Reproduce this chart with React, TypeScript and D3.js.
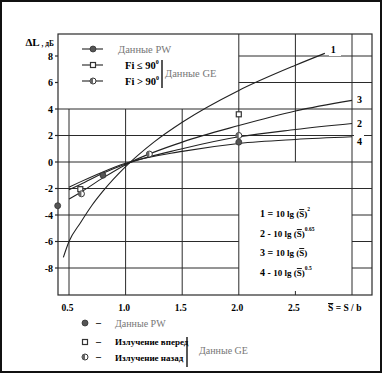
import React from "react";
import * as d3 from "d3";

// ---- data ----
const sValues = [0.5, 0.6, 0.8, 1.0, 1.5, 2.0, 2.5, 3.0];
const curve1S = [0.45, 0.5, 0.6, 0.7, 0.8, 1.0, 1.25, 1.5, 2.0, 2.5, 2.76];
const curve1dB = [-7.2, -6.0, -4.6, -3.3, -2.2, -0.35, 1.5, 3.0, 5.4, 7.3, 8.2];
const curve2dB = [-2.1, -1.7, -0.85, -0.15, 1.0, 1.9, 2.45, 2.9];
const curve3dB = [-2.8, -2.3, -1.2, -0.2, 1.5, 2.75, 3.85, 4.65];
const curve4dB = [-1.9, -1.5, -0.75, -0.1, 0.8, 1.4, 1.7, 1.9];
const curveLabels = ["1", "2", "3", "4"];

const pwPoints: [number, number][] = [[0.4, -3.3], [0.8, -1.0], [2.0, 1.5]];
const geForward: [number, number][] = [[0.6, -2.05], [2.0, 3.6]];
const geBackward: [number, number][] = [[0.61, -2.4], [1.21, 0.6], [2.0, 2.0]];

const xTicks = [0.5, 1.0, 1.5, 2.0, 2.5];
const yTicks = [8, 6, 4, 2, 0, -2, -4, -6, -8];

const W = 383, H = 374;
const x = d3.scaleLinear().domain([0.5, 3.0]).range([69, 352]);
const y = d3.scaleLinear().domain([-8, 8]).range([268, 56]);
const L = 58, R = 372, T = 34, B = 295;

const gridC = "#2a2a2a";
const font = "'Liberation Serif', 'DejaVu Serif', serif";

function Circle({ cx, cy }: { cx: number; cy: number }) {
  return <circle cx={cx} cy={cy} r={3} fill="#555" stroke="#333" strokeWidth={0.8} />;
}
function Square({ cx, cy }: { cx: number; cy: number }) {
  return <rect x={cx - 2.5} y={cy - 2.5} width={5} height={5} fill="#fff" stroke="#333" strokeWidth={1.2} />;
}
function Half({ cx, cy }: { cx: number; cy: number }) {
  return (
    <g>
      <circle cx={cx} cy={cy} r={3} fill="#fff" stroke="#333" strokeWidth={1} />
      <path d={`M${cx},${cy - 3} A3,3 0 0 0 ${cx},${cy + 3} Z`} fill="#666" />
    </g>
  );
}

export default function App() {
  const line = d3.line<[number, number]>().x(d => x(d[0])).y(d => y(d[1])).curve(d3.curveMonotoneX);
  const c1 = curve1S.map((s, i) => [s, curve1dB[i]] as [number, number]);
  const mk = (arr: number[]) => sValues.map((s, i) => [s, arr[i]] as [number, number]);
  const curves = [mk(curve2dB), mk(curve3dB), mk(curve4dB)];

  const hLines: JSX.Element[] = [];
  yTicks.forEach(v => {
    const yy = y(v);
    if (v >= 6) {
      hLines.push(<line key={"h" + v} x1={x(2.0)} x2={R} y1={yy} y2={yy} stroke={gridC} />);
    } else if (v <= -4) {
      hLines.push(<line key={"h" + v} x1={L} x2={x(2.0)} y1={yy} y2={yy} stroke={gridC} />);
      hLines.push(<line key={"hr" + v} x1={x(3.0)} x2={R} y1={yy} y2={yy} stroke={gridC} />);
    } else {
      hLines.push(<line key={"h" + v} x1={L} x2={R} y1={yy} y2={yy} stroke={gridC} />);
    }
  });
  const vLines: JSX.Element[] = [];
  [0.5, 1.0, 1.5].forEach(v =>
    vLines.push(<line key={"v" + v} x1={x(v)} x2={x(v)} y1={y(4)} y2={B} stroke={gridC} />)
  );
  vLines.push(<line key="v2" x1={x(2.0)} x2={x(2.0)} y1={T} y2={B} stroke={gridC} />);
  vLines.push(<line key="v25" x1={x(2.5)} x2={x(2.5)} y1={T} y2={y(0)} stroke={gridC} />);
  vLines.push(<line key="v25t" x1={x(2.5)} x2={x(2.5)} y1={B - 4} y2={B} stroke={gridC} />);
  vLines.push(<line key="v3" x1={x(3.0)} x2={x(3.0)} y1={T} y2={B} stroke={gridC} />);

  const endLabel = (pts: [number, number][], label: string, dx: number, dy: number) => {
    const p = pts[pts.length - 1];
    return (
      <text key={"l" + label} x={x(p[0]) + dx} y={y(p[1]) + dy} fontSize={10} fontWeight="bold" fontFamily={font}>{label}</text>
    );
  };

  const formulas = [
    { n: "1", sep: "=", sup: "2" },
    { n: "2", sep: "-", sup: "0.65" },
    { n: "3", sep: "=", sup: "" },
    { n: "4", sep: "-", sup: "0.5" },
  ];
  const formulaY = [217, 237, 256, 276];

  return (
    <div style={{ position: "fixed", left: 0, top: 0 }}>
      <svg width={W} height={H} style={{ display: "block", background: "#fff" }} fontFamily={font}>
        <rect x={1} y={1} width={380} height={371} fill="#fff" stroke="#111" strokeWidth={2} />
        <rect x={L} y={T} width={R - L} height={B - T} fill="none" stroke={gridC} strokeWidth={1.2} />
        {hLines}
        {vLines}
        {yTicks.map(v => (
          <g key={"yt" + v}>
            <line x1={L - 3} x2={L} y1={y(v)} y2={y(v)} stroke={gridC} strokeWidth={1.2} />
            <text x={53} y={y(v) + 3.5} textAnchor="end" fontSize={10} fontWeight="bold">{v}</text>
          </g>
        ))}
        {xTicks.map(v => (
          <text key={"xt" + v} x={x(v) - 1.5} y={311} textAnchor="middle" fontSize={9.5} fontWeight="bold">{v.toFixed(1)}</text>
        ))}
        <text x={328} y={311} fontSize={9.5} fontWeight="bold">
          <tspan style={{ textDecoration: "overline" }}>S</tspan> = S / b
        </text>
        <text x={54} y={46} fontWeight="bold" textAnchor="end">
          <tspan fontSize={11}>ΔL</tspan><tspan fontSize={7.5}> , дБ</tspan>
        </text>

        <path d={line(c1) || ""} fill="none" stroke="#222" strokeWidth={1.1} />
        {curves.map((c, i) => (
          <path key={"c" + i} d={line(c) || ""} fill="none" stroke="#222" strokeWidth={1.1} />
        ))}
        <rect x={329} y={43} width={12} height={13} fill="#fff" />
        {endLabel(c1, curveLabels[0], 6, 0)}
        <rect x={354} y={135} width={10} height={12} fill="#fff" />
        {endLabel(curves[0], curveLabels[1], 5, 3)}
        {endLabel(curves[1], curveLabels[2], 5, 3)}
        {endLabel(curves[2], curveLabels[3], 5, 8)}

        {pwPoints.map((p, i) => <Circle key={"pw" + i} cx={x(p[0])} cy={y(p[1])} />)}
        {geForward.map((p, i) => <Square key={"gf" + i} cx={x(p[0])} cy={y(p[1])} />)}
        {geBackward.map((p, i) => <Half key={"gb" + i} cx={x(p[0])} cy={y(p[1])} />)}

        <g>
          <line x1={82} x2={103} y1={49} y2={49} stroke="#333" strokeWidth={1.2} />
          <Circle cx={93} cy={49} />
          <text x={118} y={53} fontSize={10.5} fill="#777">Данные PW</text>
          <line x1={82} x2={103} y1={65} y2={65} stroke="#333" strokeWidth={1.2} />
          <Square cx={93} cy={65} />
          <text x={125} y={69} fontSize={10.5} fontWeight="bold">Fi ≤ 90<tspan fontSize={6} dy={-5}>0</tspan></text>
          <line x1={82} x2={103} y1={81} y2={81} stroke="#333" strokeWidth={1.2} />
          <Half cx={93} cy={81} />
          <text x={125} y={85} fontSize={10.5} fontWeight="bold">Fi &gt; 90<tspan fontSize={6} dy={-5}>0</tspan></text>
          <line x1={162} x2={162} y1={60} y2={88} stroke="#111" strokeWidth={1.4} />
          <text x={165} y={77} fontSize={10.5} fill="#777">Данные GE</text>
        </g>

        {formulas.map((f, i) => (
          <text key={"f" + i} x={260} y={formulaY[i]} fontSize={10} fontWeight="bold">
            {f.n} {f.sep} <tspan fontSize={9}>10 lg (</tspan><tspan fontSize={9} style={{ textDecoration: "overline" }}>S</tspan><tspan fontSize={9}>)</tspan>
            {f.sup ? <tspan fontSize={5.5} dy={-6}>{f.sup}</tspan> : null}
          </text>
        ))}

        <g>
          <Circle cx={85} cy={323} />
          <text x={96} y={326} fontSize={10} fontWeight="bold">–</text>
          <text x={115} y={327} fontSize={10} fill="#777">Данные PW</text>
          <Square cx={85} cy={342} />
          <text x={96} y={345} fontSize={10} fontWeight="bold">–</text>
          <text x={115} y={345} fontSize={9} fontWeight="bold">Излучение вперед</text>
          <Half cx={85} cy={357} />
          <text x={96} y={360} fontSize={10} fontWeight="bold">–</text>
          <text x={115} y={361} fontSize={9} fontWeight="bold">Излучение назад</text>
          <line x1={187} x2={187} y1={337} y2={367} stroke="#111" strokeWidth={1.4} />
          <text x={199} y={354} fontSize={10} fill="#777">Данные GE</text>
        </g>
      </svg>
    </div>
  );
}
